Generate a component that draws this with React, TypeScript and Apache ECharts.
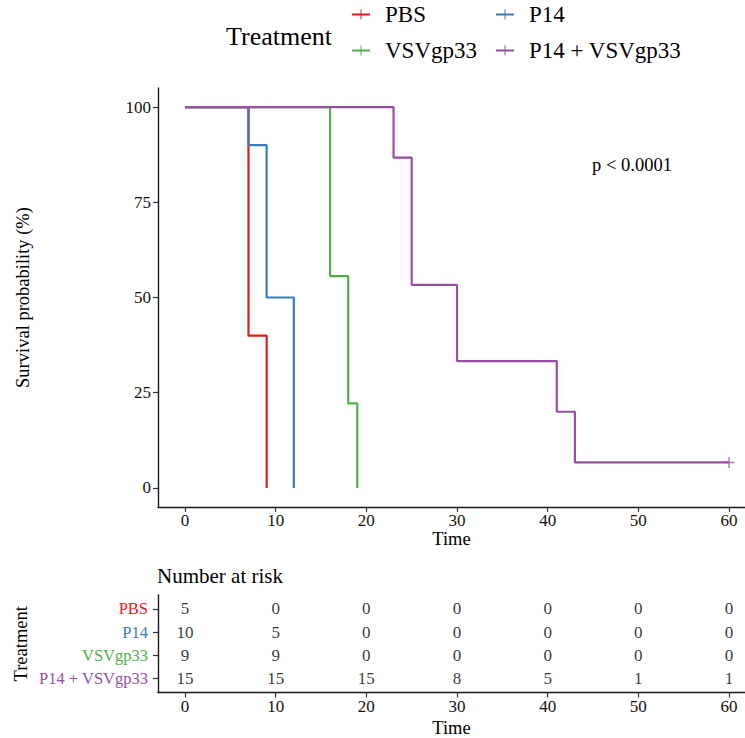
import React, { useEffect, useRef } from "react";
import * as echarts from "echarts";

// ---- Data ----
const groupNames = ["PBS", "P14", "VSVgp33", "P14 + VSVgp33"];
const groupColors = ["#E41A1C", "#377EB8", "#4DAF4A", "#984EA3"];

const pbsTime = [0, 7, 9];
const pbsSurv = [100, 40, 0];
const p14Time = [0, 7, 9, 12];
const p14Surv = [100, 90, 50, 0];
const vsvTime = [0, 16, 18, 19];
const vsvSurv = [100, 55.6, 22.2, 0];
const comboTime = [0, 23, 25, 30, 41, 43, 60];
const comboSurv = [100, 86.7, 53.3, 33.3, 20, 6.7, 6.7];
const comboCensorTime = [60];
const comboCensorSurv = [6.7];

const riskTimes = [0, 10, 20, 30, 40, 50, 60];
const pbsRisk = [5, 0, 0, 0, 0, 0, 0];
const p14Risk = [10, 5, 0, 0, 0, 0, 0];
const vsvRisk = [9, 9, 0, 0, 0, 0, 0];
const comboRisk = [15, 15, 15, 8, 5, 1, 1];

const xTicks = [0, 10, 20, 30, 40, 50, 60];
const yTicks = [0, 25, 50, 75, 100];
const pValueText = "p < 0.0001";

const FONT = "Liberation Serif";

export default function App() {
  const ref = useRef<HTMLDivElement>(null);
  useEffect(() => {
    if (!ref.current) return;
    const chart = echarts.init(ref.current, null, { renderer: "svg" });

    const survTimes = [pbsTime, p14Time, vsvTime, comboTime];
    const survVals = [pbsSurv, p14Surv, vsvSurv, comboSurv];
    const risks = [pbsRisk, p14Risk, vsvRisk, comboRisk];

    const lineSeries = groupNames.map((name, i) => ({
      name,
      type: "line",
      xAxisIndex: 0,
      yAxisIndex: 0,
      step: "end",
      showSymbol: false,
      symbol: "none",
      lineStyle: { color: groupColors[i], width: 2.2 },
      itemStyle: { color: groupColors[i] },
      data: survTimes[i].map((t, k) => [t, survVals[i][k]]),
      z: 2 + i,
    }));

    const plusPath = "path://M0,4.3h10v1.4h-10z M4.4,0h1.2v10h-1.2z";
    const legendIcon = "path://M0,4.1h18v1.8h-18z M8.5,0h1v10h-1z";

    const censorSeries = {
      name: "P14 + VSVgp33",
      type: "scatter",
      xAxisIndex: 0,
      yAxisIndex: 0,
      symbol: plusPath,
      symbolSize: 11,
      itemStyle: { color: groupColors[3], opacity: 0.8 },
      data: comboCensorTime.map((t, k) => [t, comboCensorSurv[k]]),
      z: 10,
    };

    const riskData: any[] = [];
    risks.forEach((arr, g) => {
      const row = 4 - g;
      arr.forEach((n, k) => riskData.push([riskTimes[k], row, n]));
    });
    const riskSeries = {
      type: "scatter",
      xAxisIndex: 1,
      yAxisIndex: 1,
      symbolSize: 1,
      itemStyle: { color: "rgba(0,0,0,0)" },
      label: {
        show: true,
        position: "inside",
        formatter: (p: any) => String(p.value[2]),
        fontFamily: FONT,
        fontSize: 17,
        color: "#000",
      },
      data: riskData,
    };

    const xMin = -2.98;
    const xMax = 61.76;
    const axisLineStyle = { color: "#1a1a1a", width: 1.4 };
    const tickStyle = { color: "#333", width: 1.2 };

    const rich: any = {};
    groupNames.forEach((_, i) => {
      rich["g" + i] = { color: groupColors[i], fontFamily: FONT, fontSize: 16.5 };
    });

    const tickLabel = { fontFamily: FONT, fontSize: 17, color: "#111" };
    const nameStyle = { fontFamily: FONT, fontSize: 18.5, color: "#000" };

    const option: any = {
      animation: false,
      backgroundColor: "#fff",
      textStyle: { fontFamily: FONT },
      grid: [
        { left: 158, width: 587, top: 88, height: 419 },
        { left: 158, width: 587, top: 595, height: 98 },
      ],
      xAxis: [
        {
          type: "value",
          gridIndex: 0,
          min: xMin,
          max: xMax,
          name: "Time",
          nameLocation: "middle",
          nameGap: 22,
          nameMoveOverlap: false,
          nameTextStyle: nameStyle,
          axisLine: { show: true, onZero: false, lineStyle: axisLineStyle },
          axisTick: { show: true, length: 5, lineStyle: tickStyle, customValues: xTicks },
          axisLabel: { customValues: xTicks, ...tickLabel, margin: 5 },
          splitLine: { show: false },
        },
        {
          type: "value",
          gridIndex: 1,
          min: xMin,
          max: xMax,
          name: "Time",
          nameLocation: "middle",
          nameGap: 25.5,
          nameMoveOverlap: false,
          nameTextStyle: nameStyle,
          axisLine: { show: true, onZero: false, lineStyle: axisLineStyle },
          axisTick: { show: true, length: 5, lineStyle: tickStyle, customValues: xTicks },
          axisLabel: { customValues: xTicks, ...tickLabel, margin: 5 },
          splitLine: { show: false },
        },
      ],
      yAxis: [
        {
          type: "value",
          gridIndex: 0,
          min: -5,
          max: 105,
          name: "Survival probability (%)",
          nameLocation: "middle",
          nameGap: 126,
          nameMoveOverlap: false,
          nameRotate: 90,
          nameTextStyle: nameStyle,
          axisLine: { show: true, onZero: false, lineStyle: axisLineStyle },
          axisTick: { show: true, length: 5, lineStyle: tickStyle, customValues: yTicks },
          axisLabel: { customValues: yTicks, ...tickLabel, margin: 7 },
          splitLine: { show: false },
        },
        {
          type: "value",
          gridIndex: 1,
          min: 0.4,
          max: 4.6,
          name: "Treatment",
          nameLocation: "middle",
          nameGap: 128,
          nameMoveOverlap: false,
          nameRotate: 90,
          nameTextStyle: { fontFamily: FONT, fontSize: 18.5, color: "#000" },
          axisLine: { show: true, onZero: false, lineStyle: axisLineStyle },
          axisTick: { show: true, length: 5, lineStyle: tickStyle, customValues: [1, 2, 3, 4] },
          axisLabel: {
            customValues: [1, 2, 3, 4],
            margin: 10,
            formatter: (v: number) => {
              const g = 4 - Math.round(v);
              return `{g${g}|${groupNames[g]}}`;
            },
            rich,
          },
          splitLine: { show: false },
        },
      ],
      legend: [
        {
          data: [groupNames[0], groupNames[2]],
          orient: "vertical",
          left: 352,
          top: 3,
          padding: 0,
          itemGap: 13,
          itemWidth: 18,
          itemHeight: 10,
          icon: legendIcon,
          textStyle: { fontFamily: FONT, fontSize: 23, color: "#000", padding: [0, 0, 0, 10] },
        },
        {
          data: [groupNames[1], groupNames[3]],
          orient: "vertical",
          left: 496,
          top: 3,
          padding: 0,
          itemGap: 13,
          itemWidth: 18,
          itemHeight: 10,
          icon: legendIcon,
          textStyle: { fontFamily: FONT, fontSize: 23, color: "#000", padding: [0, 0, 0, 10] },
        },
      ],
      graphic: [
        {
          type: "text",
          x: 226,
          y: 36,
          style: {
            text: "Treatment",
            fontFamily: FONT,
            fontSize: 26,
            fill: "#000",
            textAlign: "left",
            textVerticalAlign: "middle",
          },
        },
        {
          type: "text",
          x: 632,
          y: 165,
          style: {
            text: pValueText,
            fontFamily: FONT,
            fontSize: 18.5,
            fill: "#000",
            textAlign: "center",
            textVerticalAlign: "middle",
          },
        },
        {
          type: "text",
          x: 157,
          y: 576,
          style: {
            text: "Number at risk",
            fontFamily: FONT,
            fontSize: 21,
            fill: "#000",
            textAlign: "left",
            textVerticalAlign: "middle",
          },
        },
      ],
      series: [...lineSeries, censorSeries, riskSeries],
    };

    chart.setOption(option);
    return () => chart.dispose();
  }, []);

  return (
    <div
      ref={ref}
      style={{ position: "fixed", left: 0, top: 0, width: 745, height: 738 }}
    />
  );
}
